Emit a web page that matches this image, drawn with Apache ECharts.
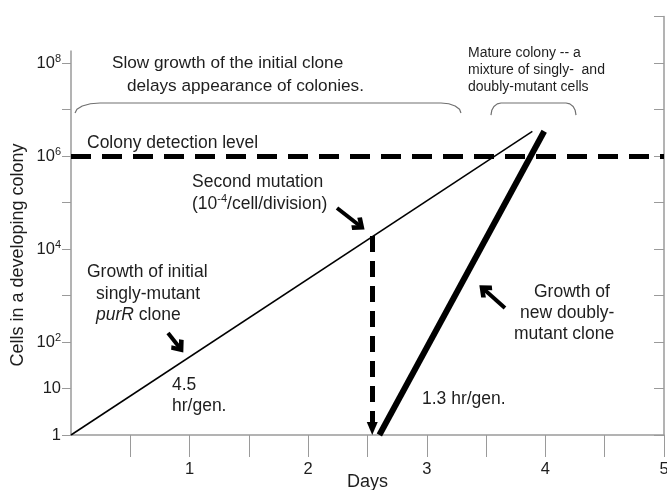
<!DOCTYPE html>
<html>
<head>
<meta charset="utf-8">
<script src="https://cdn.jsdelivr.net/npm/echarts@6/dist/echarts.min.js"></script>
<style>
  html, body { margin: 0; padding: 0; background: #fff; }
  #chart { width: 667px; height: 490px; }
</style>
</head>
<body>
<div id="chart"></div>
<script>
// x = days, y = cells in a developing colony (log scale)
const xTickValues = [0.5, 1, 1.5, 2, 2.5, 3, 3.5, 4, 4.5, 5];
const xLabelValues = [1, 2, 3, 4, 5];
const yTickExponents = [0, 1, 2, 3, 4, 5, 6, 7, 8];
const yLabelExponents = [0, 1, 2, 4, 6, 8];
const leftAxisTopExp = 8.27;

const singlyDays = [0, 3.89];
const singlyCells = [1, 3.4e6];
const doublyDays = [2.6, 3.99];
const doublyCells = [1, 3.4e6];

const detectionLevel = 1e6;
const mutationDay = 2.54;
const mutationCells = 1.9e4;

// curly brackets over the top
const braceSlowDays = [0.034, 0.05, 0.095, 0.164, 0.245, 3.12, 3.185, 3.239, 3.276, 3.288];
const braceSlowCells = [8.4e6, 1.01e7, 1.19e7, 1.33e7, 1.38e7, 1.38e7, 1.33e7, 1.19e7, 1.01e7, 8.4e6];
const braceMatureDays = [3.541, 3.548, 3.566, 3.594, 3.626, 4.174, 4.206, 4.234, 4.251, 4.258];
const braceMatureCells = [7.6e6, 9.6e6, 1.16e7, 1.32e7, 1.38e7, 1.38e7, 1.32e7, 1.16e7, 9.6e6, 7.6e6];

// pointer arrows [fromDay, fromCells, toDay, toCells]
const arrowMutation = [2.243, 7.6e4, 2.432, 3.2e4];
const arrowPurR = [0.818, 156, 0.913, 77];
const arrowDoubly = [3.659, 540, 3.484, 1340];

const FONT = '"Liberation Sans", Arial, sans-serif';
const AXIS = '#9a9a9a';
const INK = '#1e1e1e';
const CHEVRON = 'path://M10,0 L20,11 L16,15 L10,8 L4,15 L0,11 Z';
const TRIANGLE = 'path://M5,0 L10,13 L0,13 Z';

const zip = (xs, ys) => xs.map((x, i) => [x, ys[i]]);

function arrow(a) {
  return [
    { coord: [a[0], a[1]], symbol: 'none' },
    { coord: [a[2], a[3]], symbol: CHEVRON, symbolSize: [16, 13] },
  ];
}

function txt(x, y, text, size, extra) {
  return {
    type: 'text', x, y, silent: true, z: 100,
    style: Object.assign({
      text, fontSize: size, fontFamily: FONT, fill: INK,
      align: 'left', verticalAlign: 'middle',
    }, extra || {}),
  };
}

const supRich = { s: { fontSize: 11, fontFamily: FONT, fill: INK, verticalAlign: 'top', lineHeight: 11 } };

const chart = echarts.init(document.getElementById('chart'));
chart.setOption({
  animation: false,
  grid: { left: 71, right: 3, top: 16.5, bottom: 55, outerBoundsMode: 'none', containLabel: false },
  xAxis: {
    type: 'value', min: 0, max: 5,
    name: 'Days', nameLocation: 'middle', nameGap: 38, nameMoveOverlap: false,
    nameTextStyle: { fontSize: 18, color: INK, fontFamily: FONT, verticalAlign: 'top' },
    axisLine: { lineStyle: { color: AXIS, width: 1.5 } },
    axisTick: { customValues: xTickValues, length: 22, lineStyle: { color: AXIS, width: 1 } },
    axisLabel: { customValues: xLabelValues, margin: 26, fontSize: 16.5, color: INK, fontFamily: FONT, hideOverlap: false },
    splitLine: { show: false },
  },
  yAxis: [
    {
      type: 'value', min: 0, max: 9, interval: 1, position: 'left',
      axisLine: { show: false },
      axisTick: { customValues: yTickExponents, length: 9, lineStyle: { color: AXIS, width: 1 } },
      axisLabel: {
        customValues: yLabelExponents, margin: 10,
        fontSize: 16.5, color: INK, fontFamily: FONT, lineHeight: 20,
        formatter: v => v === 0 ? '1' : v === 1 ? '10' : '10{s|' + v + '}',
        rich: supRich,
      },
      splitLine: { show: false },
    },
    {
      type: 'log', logBase: 10, min: 1, max: 1e9, splitNumber: 9, position: 'right',
      axisLine: { show: true, lineStyle: { color: AXIS, width: 1.5 } },
      axisTick: { inside: true, length: 10, lineStyle: { color: AXIS, width: 1 } },
      axisLabel: { show: false },
      splitLine: { show: false },
    },
  ],
  series: [
    {
      // left axis line stops a bit above 10^8
      type: 'line', yAxisIndex: 0, clip: false, silent: true, symbol: 'none',
      data: [[0, 0], [0, leftAxisTopExp]],
      lineStyle: { color: AXIS, width: 1.5 },
    },
    {
      name: 'singly', type: 'line', yAxisIndex: 1, symbol: 'none', silent: true,
      data: zip(singlyDays, singlyCells),
      lineStyle: { color: '#000', width: 1.5 },
      markLine: {
        silent: true, label: { show: false },
        data: [
          [
            { coord: [0, detectionLevel], symbol: 'none', lineStyle: { color: '#000', width: 5, type: [20, 11] } },
            { coord: [5, detectionLevel], symbol: 'none' },
          ],
          [
            { coord: [mutationDay, mutationCells], symbol: 'none', lineStyle: { color: '#000', width: 5, type: [16, 9] } },
            { coord: [mutationDay, 1.38], symbol: TRIANGLE, symbolSize: [11, 13] },
          ],
        ],
      },
    },
    {
      name: 'doubly', type: 'line', yAxisIndex: 1, symbol: 'none', silent: true,
      data: zip(doublyDays, doublyCells),
      lineStyle: { color: '#000', width: 6 },
      markLine: {
        silent: true, label: { show: false },
        lineStyle: { color: '#000', width: 4, type: 'solid' },
        data: [arrow(arrowMutation), arrow(arrowPurR), arrow(arrowDoubly)],
      },
    },
    {
      type: 'line', yAxisIndex: 1, symbol: 'none', silent: true,
      data: zip(braceSlowDays, braceSlowCells),
      lineStyle: { color: '#707070', width: 1.2 },
    },
    {
      type: 'line', yAxisIndex: 1, symbol: 'none', silent: true,
      data: zip(braceMatureDays, braceMatureCells),
      lineStyle: { color: '#707070', width: 1.2 },
    },
  ],
  graphic: [
    txt(18, 255, 'Cells in a developing colony', 18, { align: 'center' }),
    txt(112, 63, 'Slow growth of the initial clone', 17.2),
    txt(127, 86, 'delays appearance of colonies.', 17.2),
    txt(87, 143, 'Colony detection level', 17.5),
    txt(468, 70, 'Mature colony -- a\nmixture of singly-  and\ndoubly-mutant cells', 14, { lineHeight: 17 }),
    txt(192, 193, 'Second mutation\n(10{s|-4}/cell/division)', 17.5, { lineHeight: 22, rich: supRich }),
    txt(87, 272, 'Growth of initial', 17.5),
    txt(96, 294, 'singly-mutant', 17.5),
    txt(96, 315, '{i|purR} clone', 17.5, { rich: { i: { fontStyle: 'italic', fontSize: 17.5, fontFamily: FONT, fill: INK } } }),
    txt(172, 395.5, '4.5\nhr/gen.', 17.5, { lineHeight: 21 }),
    txt(534, 292, 'Growth of', 17.5),
    txt(520, 313, 'new doubly-', 17.5),
    txt(514, 334, 'mutant clone', 17.5),
    txt(422, 399, '1.3 hr/gen.', 17.5),
  ],
});
// rotate the y title
chart.setOption({ graphic: [{ rotation: Math.PI / 2 }] });
</script>
</body>
</html>
